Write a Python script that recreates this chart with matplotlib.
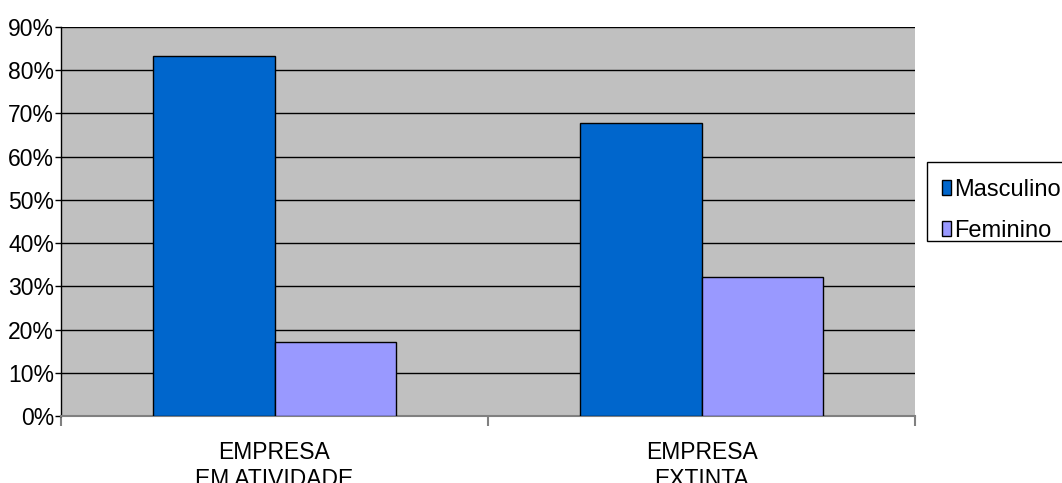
import matplotlib
matplotlib.use("Agg")
import matplotlib.pyplot as plt
from matplotlib.patches import Rectangle
import numpy as np

categories = ["EMPRESA\nEM ATIVIDADE", "EMPRESA\nEXTINTA"]
series_names = ["Masculino", "Feminino"]
masculino = [83.3, 67.9]
feminino = [17.2, 32.2]
yticks = [0, 10, 20, 30, 40, 50, 60, 70, 80, 90]
ytick_labels = ["0%", "10%", "20%", "30%", "40%", "50%", "60%", "70%", "80%", "90%"]

colors = ["#0066CC", "#9999FF"]

plt.rcParams['font.family'] = ['Liberation Sans', 'DejaVu Sans']

W, H = 1062, 483
fig = plt.figure(figsize=(W/100, H/100), dpi=100)
ax = fig.add_axes([61/W, 1-416/H, (915-61)/W, (416-27)/H])
ax.set_facecolor("#C0C0C0")

x = np.arange(len(categories))
w = 0.284
b1 = ax.bar(x - w/2, masculino, width=w, color=colors[0], edgecolor="black", linewidth=1, zorder=3, label=series_names[0])
b2 = ax.bar(x + w/2, feminino, width=w, color=colors[1], edgecolor="black", linewidth=1, zorder=3, label=series_names[1])

ax.set_xlim(-0.5, 1.5)
ax.set_ylim(0, 90)
ax.set_yticks(yticks)
ax.set_yticklabels(ytick_labels, fontsize=16.5)
for yv in yticks[1:]:
    ax.axhline(yv, color="black", linewidth=1, zorder=1)

ax.set_xticks([-0.5, 0.5, 1.5])
ax.set_xticklabels([])
ax.set_xticks(x, minor=True)
ax.set_xticklabels(categories, minor=True, fontsize=16.5, linespacing=1.2)
ax.tick_params(axis='x', which='minor', length=0, pad=18)
ax.tick_params(axis='x', which='major', length=7, color="#808080", width=1.5)
ax.tick_params(axis='y', length=4, width=1, color="black", pad=1)

for s in ["top", "right"]:
    ax.spines[s].set_visible(False)
ax.spines["left"].set_color("black")
ax.spines["left"].set_linewidth(1)
ax.spines["bottom"].set_color("#808080")
ax.spines["bottom"].set_linewidth(1.5)

# legend frame (drawn separately so the text sits as in the original)
frame = Rectangle((927/W, 1-241/H), (1080-927)/W, (241-162)/H, transform=fig.transFigure,
                  facecolor="white", edgecolor="black", linewidth=1, clip_on=False)
fig.add_artist(frame)
leg = fig.legend(handles=[b1, b2], labels=series_names, loc="upper left",
                 bbox_to_anchor=(942/W, 1-179/H), fontsize=17,
                 frameon=False,
                 handlelength=0.4, handleheight=0.6, handletextpad=0.12,
                 borderpad=0, labelspacing=0.8, borderaxespad=0)

fig.savefig("out.png", dpi=100)
